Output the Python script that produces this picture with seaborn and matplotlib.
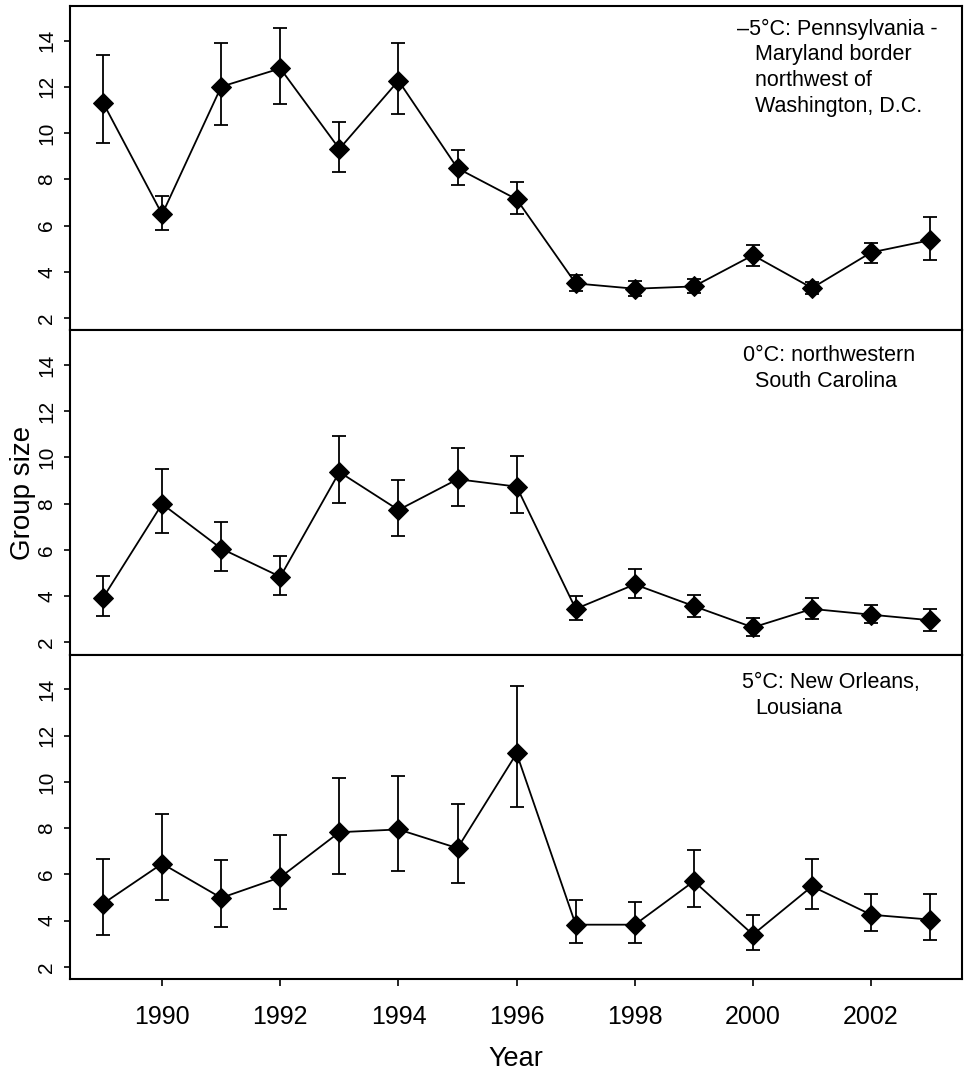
import matplotlib
matplotlib.use("Agg")
import matplotlib.pyplot as plt
import numpy as np
import seaborn as sns

years = list(range(1989, 2004))

# -5 C panel: Pennsylvania - Maryland border
north_mean = [11.32, 6.49, 12.01, 12.80, 9.32, 12.27, 8.48, 7.14, 3.50, 3.27, 3.37, 4.72, 3.30, 4.84, 5.37]
north_upper = [13.39, 7.27, 13.92, 14.53, 10.49, 13.92, 9.28, 7.89, 3.85, 3.59, 3.69, 5.18, 3.55, 5.24, 6.39]
north_lower = [9.58, 5.80, 10.36, 11.26, 8.30, 10.81, 7.74, 6.52, 3.19, 2.97, 3.09, 4.27, 3.06, 4.40, 4.50]

# 0 C panel: northwestern South Carolina
mid_mean = [3.93, 7.99, 6.06, 4.84, 9.37, 7.73, 9.06, 8.74, 3.45, 4.51, 3.57, 2.65, 3.45, 3.20, 2.96]
mid_upper = [4.89, 9.50, 7.22, 5.76, 10.93, 9.02, 10.43, 10.07, 4.00, 5.17, 4.07, 3.04, 3.91, 3.60, 3.45]
mid_lower = [3.16, 6.73, 5.10, 4.06, 8.04, 6.60, 7.89, 7.60, 2.99, 3.93, 3.09, 2.26, 3.02, 2.84, 2.51]

# 5 C panel: New Orleans
south_mean = [4.73, 6.46, 4.98, 5.87, 7.82, 7.94, 7.13, 11.23, 3.82, 3.82, 5.70, 3.39, 5.48, 4.25, 4.04]
south_upper = [6.65, 8.60, 6.62, 7.69, 10.16, 10.26, 9.05, 14.16, 4.87, 4.79, 7.03, 4.22, 6.67, 5.13, 5.13]
south_lower = [3.36, 4.87, 3.72, 4.50, 6.02, 6.13, 5.63, 8.89, 3.01, 3.03, 4.57, 2.71, 4.50, 3.53, 3.17]

panel_labels = [
    ["\u20135\u00b0C: Pennsylvania -", "Maryland border", "northwest of", "Washington, D.C."],
    ["0\u00b0C: northwestern", "South Carolina"],
    ["5\u00b0C: New Orleans,", "Lousiana"],
]
label_pos = [(0.748, 0.929), (0.754, 0.921), (0.753, 0.913)]

y_ticks = [2, 4, 6, 8, 10, 12, 14]
x_ticks = [1990, 1992, 1994, 1996, 1998, 2000, 2002]

sns.set_theme(style="ticks")
plt.rcParams["font.family"] = ["Liberation Sans", "DejaVu Sans"]
plt.rcParams["text.color"] = "black"
plt.rcParams["axes.labelcolor"] = "black"
plt.rcParams["xtick.color"] = "black"
plt.rcParams["ytick.color"] = "black"

fig, axes = plt.subplots(3, 1, figsize=(9.65, 10.73), dpi=100, sharex=True)
fig.subplots_adjust(left=0.0725, right=0.997, top=0.9944, bottom=0.0876, hspace=0)

panels = [
    (north_mean, north_upper, north_lower),
    (mid_mean, mid_upper, mid_lower),
    (south_mean, south_upper, south_lower),
]

for i, (ax, (mean, upper, lower)) in enumerate(zip(axes, panels)):
    mean = np.array(mean)
    yerr = [mean - np.array(lower), np.array(upper) - mean]
    ax.errorbar(years, mean, yerr=yerr, fmt="none", ecolor="black",
                elinewidth=1.3, capsize=5, capthick=1.3, zorder=2)
    sns.lineplot(x=years, y=mean, ax=ax, color="black", linewidth=1.3,
                 marker="D", markersize=10, markeredgecolor="black",
                 markerfacecolor="black", zorder=3)

    ax.set_xlim(1988.44, 2003.54)
    ax.set_ylim(1.47, 15.5)
    ax.set_yticks(y_ticks)
    ax.set_xticks(x_ticks)
    ax.tick_params(axis="y", direction="out", length=4, width=1.2,
                   labelsize=15, pad=6, labelrotation=90)
    for lab in ax.get_yticklabels():
        lab.set_va("center")
    ax.tick_params(axis="x", direction="out", length=5, width=1.2,
                   labelsize=18, pad=14)
    for spine in ax.spines.values():
        spine.set_color("black")
        spine.set_linewidth(1.5)
    ax.set_ylabel("")
    ax.set_xlabel("")

    x0, y0 = label_pos[i]
    for j, line in enumerate(panel_labels[i]):
        x = x0 if j == 0 else 0.768
        ax.text(x, y0 - j * 0.0795, line, transform=ax.transAxes,
                fontsize=15.5, va="center", ha="left")

axes[2].set_xlabel("Year", fontsize=19.5, labelpad=12)
fig.text(0.024, 0.541, "Group size", rotation=90, fontsize=20,
         va="center", ha="center")

fig.savefig("out.png", dpi=100)
